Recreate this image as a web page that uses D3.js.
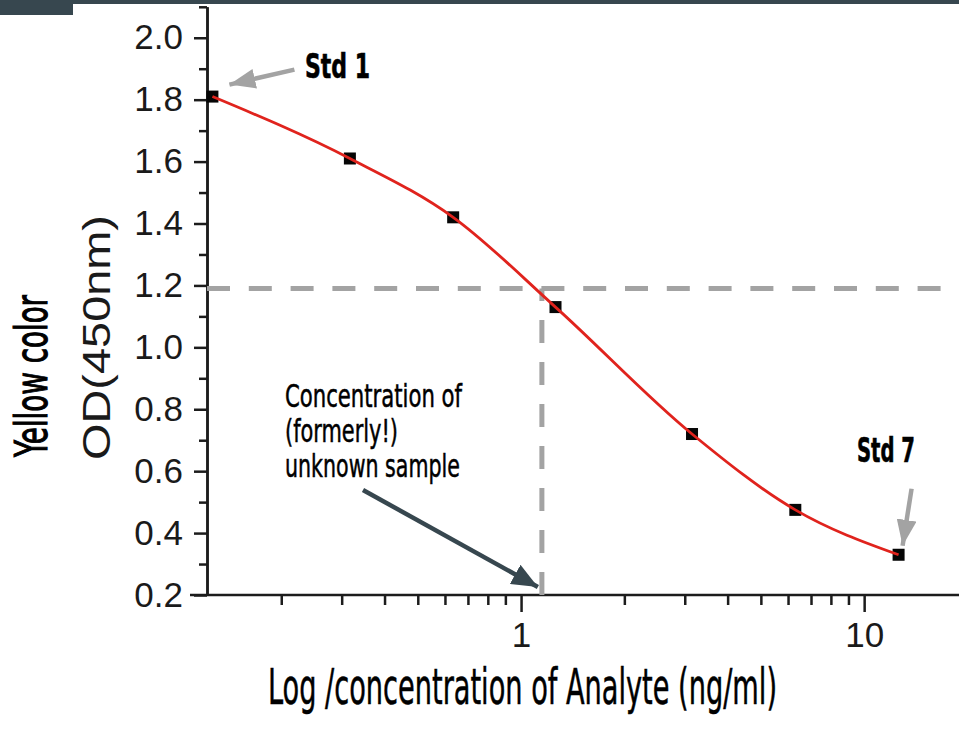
<!DOCTYPE html>
<html>
<head>
<meta charset="utf-8">
<script src="https://cdn.jsdelivr.net/npm/d3@7"></script>
<style>
  html, body { margin: 0; padding: 0; background: #fff; }
  svg { display: block; }
</style>
</head>
<body>
<svg id="chart" width="959" height="744"></svg>
<script>
// standards: concentration (ng/ml) and OD at 450nm
const concentration = [0.126, 0.317, 0.634, 1.26, 3.15, 6.3, 12.6];
const odValues = [1.81, 1.61, 1.42, 1.13, 0.72, 0.475, 0.33];

// unknown sample read-off
const unknownOD = 1.19;
const unknownConc = 1.15;

// ticks
const yMajorTicks = [0.2, 0.4, 0.6, 0.8, 1.0, 1.2, 1.4, 1.6, 1.8, 2.0];
const yMinorTicks = [0.3, 0.5, 0.7, 0.9, 1.1, 1.3, 1.5, 1.7, 1.9, 2.1];
const xMajorTicks = [1, 10];
const xMinorTicks = [0.2, 0.3, 0.4, 0.5, 0.6, 0.7, 0.8, 0.9, 2, 3, 4, 5, 6, 7, 8, 9];

const svg = d3.select("#chart");
const W = 959, H = 744;

const dark = "#37474f";
const gray = "#a3a3a3";
const red = "#e0231d";
const axisColor = "#1c1c1c";
const narrow = "'Liberation Sans Narrow', 'DejaVu Sans Condensed', 'Roboto Condensed', sans-serif";
const arial = "'Liberation Sans', Arial, sans-serif";

// scales (log decade = 343px, 1 at x=521)
const x = d3.scaleLog().domain([0.1215, 18.9]).range([207, 959]);
const y = d3.scaleLinear().domain([0.2, 2.1]).range([595, 6.8]);

// top banner
svg.append("rect").attr("x", 0).attr("y", 0).attr("width", W).attr("height", 4).attr("fill", dark);
svg.append("rect").attr("x", 0).attr("y", 0).attr("width", 73).attr("height", 15).attr("fill", dark);

// arrow heads
const defs = svg.append("defs");
function arrowHead(id, color, len, wid) {
  defs.append("marker")
    .attr("id", id)
    .attr("markerUnits", "userSpaceOnUse")
    .attr("viewBox", `0 ${-wid / 2} ${len} ${wid}`)
    .attr("refX", len).attr("refY", 0)
    .attr("markerWidth", len).attr("markerHeight", wid)
    .attr("orient", "auto")
    .append("path")
    .attr("d", `M0,${-wid / 2}L${len},0L0,${wid / 2}Z`)
    .attr("fill", color);
}
arrowHead("headGray", gray, 26, 20);
arrowHead("headDark", dark, 26, 22);

// y axis
const yMinor = d3.axisLeft(y).tickValues(yMinorTicks).tickSize(8).tickSizeOuter(0).tickFormat("");
const yMajor = d3.axisLeft(y).tickValues(yMajorTicks).tickSize(13).tickSizeOuter(0).tickPadding(11)
  .tickFormat(d3.format(".1f"));

const gyMinor = svg.append("g").attr("transform", "translate(207,0)").call(yMinor);
const gyMajor = svg.append("g").attr("transform", "translate(207,0)").call(yMajor);
[gyMinor, gyMajor].forEach(g => {
  g.selectAll("line").attr("stroke", axisColor).attr("stroke-width", 2.5);
  g.select(".domain").attr("stroke", axisColor).attr("stroke-width", 2.5);
});
gyMajor.selectAll("text")
  .attr("fill", "#1a1a1a")
  .style("font-family", arial)
  .style("font-size", "35px");

// x axis
svg.append("line")
  .attr("x1", 190).attr("x2", W)
  .attr("y1", y(0.2)).attr("y2", y(0.2))
  .attr("stroke", axisColor).attr("stroke-width", 2.5);

const xMinor = d3.axisBottom(x).tickValues(xMinorTicks).tickSize(10).tickSizeOuter(0).tickFormat("");
const xMajor = d3.axisBottom(x).tickValues(xMajorTicks).tickSize(17).tickSizeOuter(0).tickPadding(10)
  .tickFormat(d3.format("d"));
const gxMinor = svg.append("g").attr("transform", `translate(0,${y(0.2)})`).call(xMinor);
const gxMajor = svg.append("g").attr("transform", `translate(0,${y(0.2)})`).call(xMajor);
[gxMinor, gxMajor].forEach(g => {
  g.selectAll("line").attr("stroke", axisColor).attr("stroke-width", 2.5);
  g.select(".domain").remove();
});
gxMajor.selectAll("text")
  .attr("fill", "#1a1a1a")
  .style("font-family", arial)
  .style("font-size", "35px");

// dashed read-off lines
svg.append("line")
  .attr("x1", x.range()[0]).attr("x2", 945)
  .attr("y1", y(unknownOD)).attr("y2", y(unknownOD))
  .attr("stroke", gray).attr("stroke-width", 5)
  .attr("stroke-dasharray", "23,18.8");
svg.append("line")
  .attr("x1", x(unknownConc)).attr("x2", x(unknownConc))
  .attr("y1", y(0.2)).attr("y2", y(unknownOD))
  .attr("stroke", gray).attr("stroke-width", 5)
  .attr("stroke-dasharray", "23,19");

// standards markers
const pts = concentration.map((c, i) => ({ c: c, od: odValues[i] }));
svg.append("g").selectAll("rect")
  .data(pts)
  .join("rect")
  .attr("x", d => x(d.c) - 6)
  .attr("y", d => y(d.od) - 6)
  .attr("width", 12).attr("height", 12)
  .attr("fill", "#050505");

// fitted curve
const line = d3.line()
  .x(d => x(d.c))
  .y(d => y(d.od))
  .curve(d3.curveMonotoneX);
svg.append("path")
  .datum(pts)
  .attr("d", line)
  .attr("fill", "none")
  .attr("stroke", red)
  .attr("stroke-width", 2.8);

// annotation arrows
const p1 = pts[0], p7 = pts[pts.length - 1];
svg.append("line")
  .attr("x1", x(p1.c) + 82).attr("y1", y(p1.od) - 27)
  .attr("x2", x(p1.c) + 17).attr("y2", y(p1.od) - 12)
  .attr("stroke", gray).attr("stroke-width", 4.5)
  .attr("marker-end", "url(#headGray)");
svg.append("line")
  .attr("x1", x(p7.c) + 13).attr("y1", y(p7.od) - 66)
  .attr("x2", x(p7.c) + 4).attr("y2", y(p7.od) - 9)
  .attr("stroke", gray).attr("stroke-width", 4.5)
  .attr("marker-end", "url(#headGray)");
svg.append("line")
  .attr("x1", 363).attr("y1", 490)
  .attr("x2", x(unknownConc) - 4).attr("y2", y(0.2) - 8)
  .attr("stroke", dark).attr("stroke-width", 4.5)
  .attr("marker-end", "url(#headDark)");

// texts
function label(txt, tx, ty, size, weight, len, rot, sw) {
  const t = svg.append("text")
    .attr("x", tx).attr("y", ty)
    .attr("fill", "#000")
    .attr("stroke", "#000")
    .attr("stroke-width", sw || 0)
    .style("font-family", narrow)
    .style("font-size", size + "px")
    .style("font-weight", weight)
    .attr("textLength", len)
    .attr("lengthAdjust", "spacingAndGlyphs")
    .text(txt);
  if (rot) t.attr("transform", `rotate(-90,${tx},${ty})`);
  return t;
}
label("Std 1", 305, 78, 34, "bold", 65, false, 0.6);
label("Std 7", 857, 462, 34, "bold", 58, false, 0.6);
label("Concentration of", 285, 407, 32, "normal", 177, false, 0.5);
label("(formerly!)", 285, 442, 32, "normal", 113, false, 0.5);
label("unknown sample", 285, 477, 32, "normal", 175, false, 0.5);
label("Log /concentration of Analyte (ng/ml)", 268, 704, 50, "normal", 509, false, 0.5);
label("Yellow color", 47, 457, 44, "normal", 162, true, 1.1);

// y axis title
svg.append("text")
  .attr("x", 110).attr("y", 460)
  .attr("transform", "rotate(-90,110,460)")
  .attr("fill", "#1a1a1a")
  .style("font-family", arial)
  .style("font-size", "39px")
  .attr("textLength", 245)
  .attr("lengthAdjust", "spacingAndGlyphs")
  .text("OD(450nm)");
</script>
</body>
</html>
